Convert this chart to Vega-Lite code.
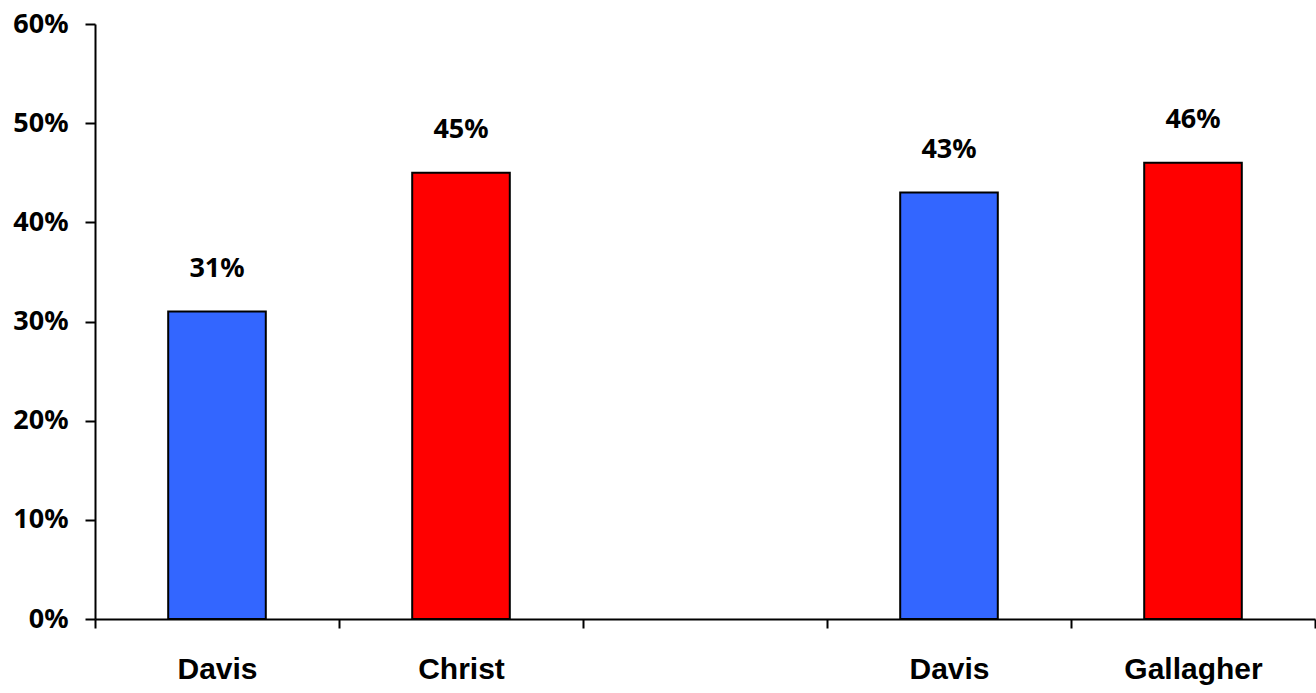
{
  "$schema": "https://vega.github.io/schema/vega-lite/v6.json",
  "width": 1220,
  "height": 595,
  "autosize": "none",
  "padding": {"left": 95, "top": 24, "right": 1, "bottom": 74},
  "background": "white",
  "config": {"view": {"stroke": null}},
  "data": {
    "values": [
      {"slot": "a", "candidate": "Davis", "party": "D", "share": 0.31},
      {"slot": "b", "candidate": "Christ", "party": "R", "share": 0.45},
      {"slot": "d", "candidate": "Davis", "party": "D", "share": 0.43},
      {"slot": "e", "candidate": "Gallagher", "party": "R", "share": 0.46}
    ]
  },
  "encoding": {
    "x": {
      "field": "slot",
      "type": "nominal",
      "sort": null,
      "scale": {"domain": ["a", "b", "c", "d", "e"], "paddingInner": 0, "paddingOuter": 0},
      "axis": {
        "title": null,
        "labelAngle": 0,
        "labelExpr": "datum.value == 'a' ? 'Davis' : datum.value == 'b' ? 'Christ' : datum.value == 'd' ? 'Davis' : datum.value == 'e' ? 'Gallagher' : ''",
        "tickBand": "extent",
        "domainColor": "black",
        "domainWidth": 2,
        "tickColor": "black",
        "tickWidth": 2,
        "tickSize": 9,
        "labelFont": "Liberation Sans",
        "labelFontWeight": "bold",
        "labelFontSize": 30,
        "labelColor": "black",
        "labelBaseline": "alphabetic",
        "labelPadding": 50
      }
    },
    "y": {
      "field": "share",
      "type": "quantitative",
      "scale": {"domain": [0, 0.6], "nice": false, "zero": true},
      "axis": {
        "title": null,
        "format": ".0%",
        "values": [0, 0.1, 0.2, 0.3, 0.4, 0.5, 0.6],
        "grid": false,
        "domainColor": "black",
        "domainWidth": 2,
        "tickColor": "black",
        "tickWidth": 2,
        "tickSize": 10,
        "labelFont": "Noto Sans",
        "labelFontWeight": "bold",
        "labelFontSize": 27,
        "labelColor": "black",
        "labelPadding": 17
      }
    }
  },
  "layer": [
    {
      "mark": {"type": "bar", "width": {"band": 0.4}, "stroke": "black", "strokeWidth": 2},
      "encoding": {
        "color": {
          "field": "party",
          "type": "nominal",
          "scale": {"domain": ["D", "R"], "range": ["#3366FF", "#FF0000"]},
          "legend": null
        }
      }
    },
    {
      "mark": {"type": "text", "baseline": "middle", "dy": -43, "font": "Noto Sans", "fontWeight": "bold", "fontSize": 27, "color": "black"},
      "encoding": {
        "text": {"field": "share", "type": "quantitative", "format": ".0%"}
      }
    }
  ]
}
